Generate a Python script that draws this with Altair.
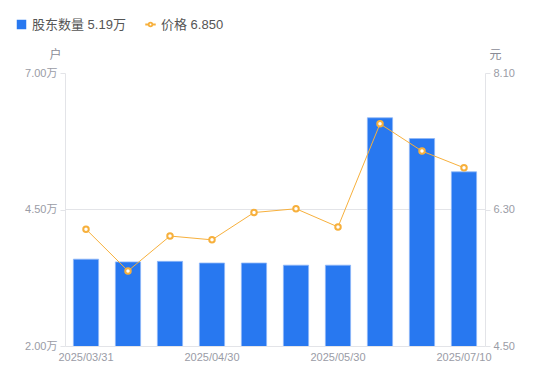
import altair as alt
import pandas as pd

dates = ["2025/03/31", "2025/04/10", "2025/04/20", "2025/04/30", "2025/05/10",
         "2025/05/20", "2025/05/30", "2025/06/20", "2025/06/30", "2025/07/10"]
holders = [3.59, 3.54, 3.55, 3.52, 3.52, 3.48, 3.48, 6.18, 5.80, 5.19]  # 万户
price = [6.04, 5.49, 5.95, 5.90, 6.26, 6.31, 6.07, 7.43, 7.07, 6.85]
shown_dates = ["2025/03/31", "2025/04/30", "2025/05/30", "2025/07/10"]
left_ticks = [2.0, 4.5, 7.0]
right_ticks = [4.5, 6.3, 8.1]
grid_values = [4.5]

df = pd.DataFrame({"date": dates, "holders": holders, "price": price,
                   "s1": "股东数量", "s2": "价格"})
gdf = pd.DataFrame({"g": grid_values})

FONT = "Liberation Sans, Noto Sans CJK SC, sans-serif"
BLUE = "#2878f0"
ORANGE = "#f7b03c"
AX = "#e3e4e8"
LAB = "#9a9ca6"

x = alt.X("date:N", sort=dates,
          scale=alt.Scale(paddingInner=0.4, paddingOuter=0.2),
          axis=alt.Axis(title=None, values=shown_dates, labelAngle=0, ticks=False,
                        domainColor=AX, labelColor=LAB, labelFontSize=11,
                        labelPadding=5, labelFont=FONT))

h_label = f"{holders[-1]:.2f}万"
p_label = f"{price[-1]:.3f}"

left_scale = alt.Scale(domain=[2, 7], nice=False, zero=False)

bars = alt.Chart(df).mark_bar(stroke="#8fb8f7", strokeWidth=0.8, clip=True).encode(
    x=x,
    y=alt.Y("holders:Q", scale=left_scale,
            axis=alt.Axis(title="户", values=left_ticks, labelExpr="format(datum.value, '.2f') + '万'",
                          titleAngle=0, titleX=-4, titleY=-12, titleAlign="right",
                          titleColor="#8a8c96", titleFontWeight="normal", titleFontSize=12,
                          titleFont=FONT,
                          domainColor=AX, tickColor=AX, tickSize=5, labelColor=LAB,
                          labelFontSize=11, labelFont=FONT, labelPadding=3,
                          grid=False)),
    color=alt.Color("s1:N", scale=alt.Scale(domain=["股东数量"], range=[BLUE]),
                    legend=alt.Legend(title=None, orient="none", legendX=-50, legendY=-55,
                                      symbolType="square", symbolSize=90, symbolStrokeWidth=0,
                                      labelExpr=f"datum.label + '   {h_label}'",
                                      labelFontSize=13, labelColor="#555", labelFont=FONT)),
)

grid = alt.Chart(gdf).mark_rule(color=AX, strokeWidth=1).encode(
    y=alt.Y("g:Q", scale=left_scale))

left = alt.layer(grid, bars)

right_axis = alt.Axis(title="元", orient="right", values=right_ticks, format=".2f",
                      titleAngle=0, titleX=4, titleY=-12, titleAlign="left",
                      titleColor="#8a8c96", titleFontWeight="normal", titleFontSize=12,
                      titleFont=FONT,
                      domainColor=AX, tickColor=AX, tickSize=5, labelColor=LAB,
                      labelFontSize=11, labelFont=FONT, labelPadding=3, grid=False)
y_right = alt.Y("price:Q", scale=alt.Scale(domain=[4.5, 8.1], nice=False, zero=False),
                axis=right_axis)

line = alt.Chart(df).mark_line(strokeWidth=1, color=ORANGE).encode(x=x, y=y_right)

pts = alt.Chart(df).mark_point(filled=False, fill="white", strokeWidth=2, size=30,
                               shape="circle", opacity=1).encode(
    x=x,
    y=y_right,
    stroke=alt.Stroke("s2:N", scale=alt.Scale(domain=["价格"], range=[ORANGE]),
                      legend=alt.Legend(title=None, orient="none", legendX=79, legendY=-55,
                                        symbolType="M -0.35,0 A 0.35,0.35 0 1,0 0.35,0 A 0.35,0.35 0 1,0 -0.35,0 Z M -1,0 L -0.35,0 M 0.35,0 L 1,0",
                                        symbolSize=110, symbolStrokeWidth=1.8, symbolFillColor="white",
                                        labelExpr=f"datum.label + '   {p_label}'",
                                        labelFontSize=13, labelColor="#555", labelFont=FONT)),
)

right = alt.layer(line, pts)

chart = alt.layer(left, right).resolve_scale(y="independent", color="independent",
                                             stroke="independent").properties(
    width=420, height=273, autosize="none", background="white",
    padding={"left": 57, "top": 65, "right": 57, "bottom": 27},
).configure_view(strokeWidth=0, stroke=None)

chart.save("out.html", embed_options={"renderer": "svg", "actions": False})
